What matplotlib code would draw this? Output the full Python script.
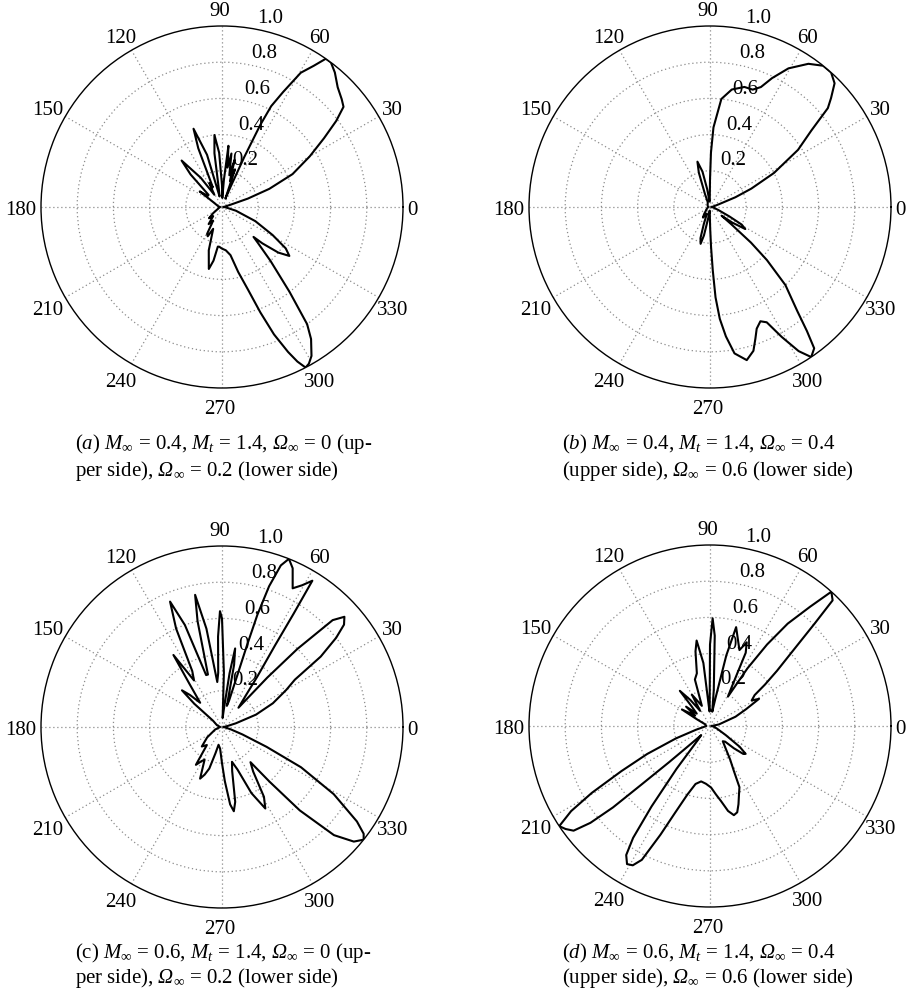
import numpy as np
import matplotlib
matplotlib.use("Agg")
import matplotlib.pyplot as plt

plt.rcParams['font.family'] = ['Liberation Serif', 'DejaVu Serif']
plt.rcParams['mathtext.fontset'] = 'custom'
plt.rcParams['mathtext.rm'] = 'Liberation Serif'
plt.rcParams['mathtext.it'] = 'Liberation Serif:italic'
plt.rcParams['mathtext.sf'] = 'Liberation Serif:italic'   # used for the slanted Omega
plt.rcParams['mathtext.bf'] = 'Liberation Serif:bold'

# directivity patterns, angle in degrees, normalised amplitude
theta_a = [0, 10, 15, 18, 21, 25, 30, 34, 37, 39.5, 42, 46, 50, 53, 55, 57, 59.6, 62, 64, 65,
           66, 67, 68, 71, 73, 75, 77, 80, 82, 84, 86, 88, 90, 93, 96, 98, 100, 103, 106, 110,
           112, 115, 118, 122, 126, 131, 134, 138, 142, 145, 148, 152, 160, 170, 180, 200, 215,
           221, 226, 232, 237, 241, 244, 248, 253, 258, 261, 264, 266, 270, 275, 280, 284, 287.5,
           290, 292.2, 294.5, 296, 297.5, 299, 301, 304, 306, 308.5, 312, 315, 316.5, 318, 321,
           324, 327, 331, 337, 345, 355, 360]
r_a = [0.01, 0.02, 0.05, 0.15, 0.28, 0.43, 0.56, 0.68, 0.79, 0.87, 0.89, 0.92, 0.97, 1.0, 1.0,
       0.93, 0.86, 0.72, 0.62, 0.5, 0.3, 0.12, 0.05, 0.22, 0.15, 0.27, 0.18, 0.3, 0.22, 0.34,
       0.15, 0.05, 0.12, 0.3, 0.4, 0.3, 0.1, 0.06, 0.3, 0.46, 0.35, 0.12, 0.15, 0.08, 0.2, 0.34,
       0.25, 0.1, 0.1, 0.15, 0.08, 0.05, 0.03, 0.02, 0.01, 0.02, 0.06, 0.095, 0.07, 0.12, 0.09,
       0.17, 0.18, 0.13, 0.25, 0.35, 0.3, 0.22, 0.22, 0.23, 0.24, 0.27, 0.37, 0.48, 0.62, 0.76,
       0.88, 0.95, 1.0, 0.99, 0.96, 0.88, 0.8, 0.6, 0.4, 0.28, 0.24, 0.3, 0.4, 0.46, 0.42, 0.32,
       0.2, 0.08, 0.02, 0.01]

theta_b = [0, 10, 17, 21, 24, 28, 33, 37, 40, 42, 44.8, 48, 51.3, 55.5, 60.5, 64.3, 67, 70, 74,
           79.5, 84, 87.5, 89, 90, 91.5, 95, 99, 102, 105.5, 108, 111, 115, 130, 150, 180, 210,
           230, 236, 240, 245, 250, 253, 255.7, 258, 261, 265, 269, 270.5, 271.5, 272.5, 273.5,
           275, 277, 279.5, 283.5, 286.8, 289, 291, 293.8, 296.2, 298.9, 301.6, 304, 306.4, 308,
           310, 314, 317, 319, 321, 323, 325, 328, 331, 334, 340, 350, 360]
r_b = [0.01, 0.02, 0.05, 0.15, 0.25, 0.4, 0.58, 0.7, 0.85, 0.9, 0.97, 1.0, 1.0, 0.96, 0.88, 0.79,
       0.72, 0.69, 0.69, 0.66, 0.6, 0.44, 0.3, 0.15, 0.05, 0.03, 0.1, 0.2, 0.26, 0.2, 0.08, 0.03,
       0.02, 0.015, 0.01, 0.02, 0.05, 0.07, 0.05, 0.04, 0.1, 0.18, 0.21, 0.16, 0.06, 0.02, 0.05,
       0.12, 0.22, 0.35, 0.5, 0.62, 0.72, 0.82, 0.87, 0.83, 0.77, 0.72, 0.69, 0.71, 0.82, 0.935,
       1.0, 0.97, 0.87, 0.75, 0.6, 0.43, 0.3, 0.15, 0.08, 0.15, 0.23, 0.2, 0.12, 0.05, 0.02, 0.01]

theta_c = [0, 10, 15, 20, 25, 30, 33, 35.5, 38, 40, 42, 44, 46, 47.5, 49.5, 53, 55, 57, 57.7,
           58.3, 60.5, 63, 66, 68.3, 70, 71.5, 72.5, 73, 73.5, 75, 77, 79, 80.5, 82, 84, 86, 88,
           90, 91, 92.5, 94, 96, 99, 101.5, 103, 105, 107, 110, 112.5, 115, 118, 121, 124, 127,
           132, 135, 137.5, 140, 145, 160, 180, 200, 215, 224, 230, 235.4, 239, 242, 247, 250,
           253, 256, 259, 265, 270, 273, 276, 278, 280, 283, 286, 290, 294, 298, 301, 305, 309,
           311, 313, 316, 319, 321.5, 323, 325, 329, 333, 336, 340, 345, 360]
r_c = [0.01, 0.03, 0.08, 0.2, 0.31, 0.41, 0.48, 0.67, 0.8, 0.88, 0.91, 0.85, 0.6, 0.37, 0.14,
       0.22, 0.34, 0.54, 0.74, 0.95, 0.9, 0.86, 0.96, 1.0, 0.95, 0.82, 0.65, 0.47, 0.3, 0.15,
       0.12, 0.35, 0.44, 0.3, 0.1, 0.05, 0.3, 0.6, 0.64, 0.5, 0.3, 0.25, 0.55, 0.745, 0.6, 0.3,
       0.3, 0.6, 0.75, 0.6, 0.35, 0.3, 0.48, 0.3, 0.18, 0.25, 0.3, 0.2, 0.06, 0.03, 0.01, 0.04,
       0.1, 0.155, 0.13, 0.254, 0.22, 0.205, 0.31, 0.28, 0.24, 0.15, 0.1, 0.12, 0.2, 0.3, 0.43,
       0.47, 0.42, 0.25, 0.2, 0.25, 0.4, 0.51, 0.45, 0.3, 0.25, 0.4, 0.63, 0.86, 0.965, 1.0,
       0.98, 0.91, 0.72, 0.49, 0.27, 0.12, 0.05, 0.01]

theta_d = [0, 10, 20, 25, 29, 31.5, 34.7, 37, 39.5, 41.6, 44.4, 45.7, 47.9, 50, 52.8, 55, 57,
           58.6, 61, 64, 66.3, 68.8, 72, 75.2, 77, 79, 81, 84, 87, 88.6, 90, 91.5, 93, 96, 98.9,
           101, 104, 108, 112, 116, 120, 123, 127, 130.6, 133, 137, 141, 145, 149.5, 153, 160,
           180, 195, 200, 204, 207, 209.5, 211.5, 213.6, 215.5, 217.5, 219, 220, 220.5, 221.5,
           223, 226, 229, 232, 234, 235.5, 237, 239, 241, 243, 245.5, 248, 251.7, 256, 260.9, 266,
           271, 275, 278.4, 282, 285, 287.5, 290, 293, 295.7, 298, 301, 305, 310, 314, 317, 320,
           322, 325, 330, 340, 350, 360]
r_d = [0.01, 0.05, 0.15, 0.22, 0.31, 0.27, 0.3, 0.38, 0.48, 0.58, 0.81, 0.97, 1.0, 0.86, 0.71,
       0.55, 0.38, 0.19, 0.25, 0.45, 0.505, 0.45, 0.5, 0.565, 0.4, 0.15, 0.08, 0.2, 0.5, 0.595,
       0.45, 0.08, 0.1, 0.35, 0.478, 0.42, 0.3, 0.27, 0.12, 0.15, 0.2, 0.1, 0.18, 0.256, 0.15,
       0.1, 0.17, 0.1, 0.18, 0.08, 0.03, 0.02, 0.08, 0.2, 0.38, 0.55, 0.75, 0.9, 1.0, 0.98, 0.95,
       0.85, 0.7, 0.5, 0.3, 0.15, 0.07, 0.1, 0.3, 0.55, 0.75, 0.85, 0.89, 0.88, 0.83, 0.66, 0.52,
       0.4, 0.33, 0.31, 0.32, 0.34, 0.38, 0.42, 0.48, 0.51, 0.5, 0.46, 0.41, 0.375, 0.28, 0.216,
       0.15, 0.11, 0.12, 0.18, 0.24, 0.25, 0.2, 0.1, 0.04, 0.02, 0.01]

angle_ticks = list(range(0, 360, 30))
radius_ticks = [0.2, 0.4, 0.6, 0.8, 1.0]

OM = r"$\mathsf{\Omega}_\infty$"
captions = [
    (r"($\mathit{a}$) $M_\infty$ = 0.4, $M_t$ = 1.4, " + OM + " = 0 (up-",
     "per side), " + OM + " = 0.2 (lower side)"),
    (r"($\mathit{b}$) $M_\infty$ = 0.4, $M_t$ = 1.4, " + OM + " = 0.4",
     "(upper side), " + OM + " = 0.6 (lower side)"),
    (r"(c) $M_\infty$ = 0.6, $M_t$ = 1.4, " + OM + " = 0 (up-",
     "per side), " + OM + " = 0.2 (lower side)"),
    (r"($\mathit{d}$) $M_\infty$ = 0.6, $M_t$ = 1.4, " + OM + " = 0.4",
     "(upper side), " + OM + " = 0.6 (lower side)"),
]

W, H = 910, 993
fig = plt.figure(figsize=(W / 100, H / 100), dpi=100)

# panel centres and caption anchors in pixels (from top-left)
centres = [(222, 207), (710, 207), (222, 727), (710, 726)]
cap_pos = [(75, 444, 471), (562, 444, 471), (75, 953, 978), (562, 953, 978)]
R = 181

patterns = [(theta_a, r_a), (theta_b, r_b), (theta_c, r_c), (theta_d, r_d)]

for (cx, cy), (th, rr), (px, y1, y2), (l1, l2) in zip(centres, patterns, cap_pos, captions):
    ax = fig.add_axes([(cx - R) / W, (H - cy - R) / H, 2 * R / W, 2 * R / H],
                      projection='polar')
    ax.plot(np.deg2rad(th), rr, color='k', lw=1.5)
    ax.set_ylim(0, 1)
    ax.set_xticks(np.deg2rad(angle_ticks))
    ax.set_yticks(radius_ticks[:-1])
    ax.set_xticklabels([])
    ax.set_yticklabels([])
    ax.tick_params(length=0)
    ax.grid(True, color='0.55', lw=0.9, linestyle=(0, (1, 2.2)))
    ax.spines['polar'].set_color('k')
    ax.spines['polar'].set_linewidth(1.0)
    for a in angle_ticks:
        rl = 1.066 if a == 0 else 1.1
        ax.annotate(str(a), xy=(np.deg2rad(a), rl), xytext=(-1.5, -2.5),
                    textcoords='offset points', ha='center', va='center', fontsize=15,
                    annotation_clip=False)
    for rv in radius_ticks:
        ax.annotate('%.1f' % rv, xy=(np.deg2rad(80), rv), xytext=(12, 7.5),
                    textcoords='offset points', ha='center', va='center', fontsize=15,
                    annotation_clip=False)
    fig.text(px / W, 1 - y1 / H, l1, ha='left', va='center', fontsize=15)
    fig.text(px / W, 1 - y2 / H, l2, ha='left', va='center', fontsize=15)

fig.savefig('out.png', dpi=100)
